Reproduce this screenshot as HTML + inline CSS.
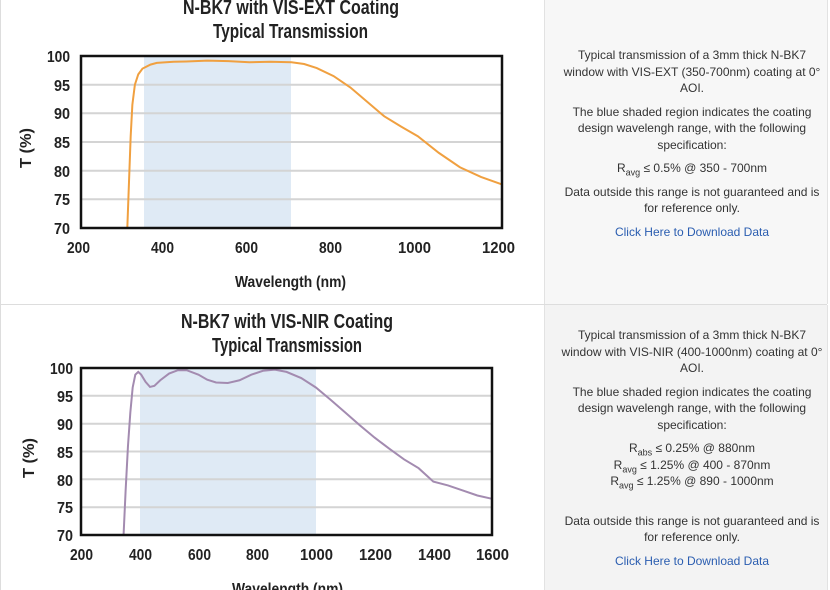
<!DOCTYPE html>
<html><head><meta charset="utf-8"><style>
body{margin:0;width:830px;height:590px;overflow:hidden;background:#fff;font-family:"Liberation Sans",sans-serif;position:relative}
.rc{position:absolute;left:544px;width:282px;background:#f7f7f7;border-left:1px solid #e2e2e2;border-right:1px solid #e2e2e2}
.tx{position:absolute;left:548px;width:288px;text-align:center;font-size:12px;line-height:16.5px;color:#333;white-space:nowrap}
.tx p{margin:0 0 7px 0}
a{color:#2a5db0;text-decoration:none}
sub{font-size:9px;line-height:0}
</style></head><body>
<div style="position:absolute;left:0;top:0;width:1px;height:590px;background:#ddd"></div>
<div class="rc" style="top:0;height:304px"></div>
<div style="position:absolute;left:0;top:304px;width:827px;height:1px;background:#ddd"></div>
<div class="rc" style="top:305px;height:285px;background:#f3f3f3"></div>
<div class="tx" style="top:47px">
<p>Typical transmission of a 3mm thick N-BK7<br>window with VIS-EXT (350-700nm) coating at 0°<br>AOI.</p>
<p>The blue shaded region indicates the coating<br>design wavelengh range, with the following<br>specification:</p>
<p>R<sub>avg</sub> ≤ 0.5% @ 350 - 700nm</p>
<p>Data outside this range is not guaranteed and is<br>for reference only.</p>
<p><a>Click Here to Download Data</a></p>
</div>
<div class="tx" style="top:327px">
<p>Typical transmission of a 3mm thick N-BK7<br>window with VIS-NIR (400-1000nm) coating at 0°<br>AOI.</p>
<p>The blue shaded region indicates the coating<br>design wavelengh range, with the following<br>specification:</p>
<p style="margin-bottom:23px">R<sub>abs</sub> ≤ 0.25% @ 880nm<br>R<sub>avg</sub> ≤ 1.25% @ 400 - 870nm<br>R<sub>avg</sub> ≤ 1.25% @ 890 - 1000nm</p>
<p>Data outside this range is not guaranteed and is<br>for reference only.</p>
<p><a>Click Here to Download Data</a></p>
</div>
<svg width="830" height="590" style="position:absolute;left:0;top:0" font-family="'Liberation Sans',sans-serif" font-weight="bold" fill="#222" lengthAdjust="spacingAndGlyphs">
<!-- chart 1 -->
<text x="183" y="14" font-size="20" textLength="216" lengthAdjust="spacingAndGlyphs">N-BK7 with VIS-EXT Coating</text>
<text x="213" y="38" font-size="20" textLength="155" lengthAdjust="spacingAndGlyphs">Typical Transmission</text>
<rect x="144" y="56" width="147" height="172" fill="#dfeaf5"/>
<g stroke="#d4d4d4" stroke-width="2"><line x1="81" x2="502" y1="84.7" y2="84.7"/><line x1="81" x2="502" y1="113.3" y2="113.3"/><line x1="81" x2="502" y1="142" y2="142"/><line x1="81" x2="502" y1="170.7" y2="170.7"/><line x1="81" x2="502" y1="199.3" y2="199.3"/></g>
<g transform="translate(81,56) scale(0.421,-5.733) translate(-200,-100)">
<polyline vector-effect="non-scaling-stroke" fill="none" stroke="#f0a040" stroke-width="2" points="310,70 314,78 318,86 322,91.5 328,95 336,96.8 346,97.8 365,98.5 380,98.8 420,99 450,99.05 500,99.2 550,99.1 600,98.9 650,99 700,98.9 730,98.6 760,97.9 800,96.5 840,94.5 880,92 920,89.5 960,87.7 1000,86 1050,83.1 1100,80.6 1150,78.9 1200,77.6"/>
</g>
<rect x="81" y="56" width="421" height="172" fill="none" stroke="#111" stroke-width="2.5"/>
<g font-size="16"><text x="47" y="62" textLength="23" lengthAdjust="spacingAndGlyphs">100</text><text x="54" y="91" textLength="16" lengthAdjust="spacingAndGlyphs">95</text><text x="54" y="119" textLength="16" lengthAdjust="spacingAndGlyphs">90</text><text x="54" y="148" textLength="16" lengthAdjust="spacingAndGlyphs">85</text><text x="54" y="177" textLength="16" lengthAdjust="spacingAndGlyphs">80</text><text x="54" y="205" textLength="16" lengthAdjust="spacingAndGlyphs">75</text><text x="54" y="234" textLength="16" lengthAdjust="spacingAndGlyphs">70</text></g>
<g font-size="16"><text x="67" y="253" textLength="23" lengthAdjust="spacingAndGlyphs">200</text><text x="151" y="253" textLength="23" lengthAdjust="spacingAndGlyphs">400</text><text x="235" y="253" textLength="23" lengthAdjust="spacingAndGlyphs">600</text><text x="319" y="253" textLength="23" lengthAdjust="spacingAndGlyphs">800</text><text x="398" y="253" textLength="33" lengthAdjust="spacingAndGlyphs">1000</text><text x="482" y="253" textLength="33" lengthAdjust="spacingAndGlyphs">1200</text></g>
<text x="235" y="287" font-size="16" textLength="111" lengthAdjust="spacingAndGlyphs">Wavelength (nm)</text>
<text transform="translate(31,168) rotate(-90)" font-size="16" textLength="40" lengthAdjust="spacingAndGlyphs">T (%)</text>
<!-- chart 2 -->
<text x="181" y="328" font-size="20" textLength="212" lengthAdjust="spacingAndGlyphs">N-BK7 with VIS-NIR Coating</text>
<text x="212" y="352" font-size="20" textLength="150" lengthAdjust="spacingAndGlyphs">Typical Transmission</text>
<rect x="140" y="368" width="176" height="167" fill="#dfeaf5"/>
<g stroke="#d4d4d4" stroke-width="2"><line x1="81" x2="492" y1="395.8" y2="395.8"/><line x1="81" x2="492" y1="423.7" y2="423.7"/><line x1="81" x2="492" y1="451.5" y2="451.5"/><line x1="81" x2="492" y1="479.3" y2="479.3"/><line x1="81" x2="492" y1="507.2" y2="507.2"/></g>
<g transform="translate(81,368) scale(0.2936,-5.567) translate(-200,-100)">
<polyline vector-effect="non-scaling-stroke" fill="none" stroke="#a38bb0" stroke-width="2" points="345,70 352,78 360,86 368,92 376,96.5 385,98.8 395,99.3 405,98.8 420,97.5 435,96.6 450,96.8 470,97.8 500,99 530,99.6 560,99.6 600,98.8 630,97.9 660,97.4 700,97.3 740,97.8 780,98.8 820,99.5 860,99.7 900,99.3 950,98.2 1000,96.5 1050,94.3 1100,92 1150,89.7 1200,87.5 1250,85.5 1300,83.6 1350,82 1400,79.6 1450,78.9 1500,78 1550,77.1 1600,76.5"/>
</g>
<rect x="81" y="368" width="411" height="167" fill="none" stroke="#111" stroke-width="2.5"/>
<g font-size="16"><text x="50" y="374" textLength="23" lengthAdjust="spacingAndGlyphs">100</text><text x="57" y="402" textLength="16" lengthAdjust="spacingAndGlyphs">95</text><text x="57" y="430" textLength="16" lengthAdjust="spacingAndGlyphs">90</text><text x="57" y="458" textLength="16" lengthAdjust="spacingAndGlyphs">85</text><text x="57" y="486" textLength="16" lengthAdjust="spacingAndGlyphs">80</text><text x="57" y="513" textLength="16" lengthAdjust="spacingAndGlyphs">75</text><text x="57" y="541" textLength="16" lengthAdjust="spacingAndGlyphs">70</text></g>
<g font-size="16"><text x="70" y="560" textLength="23" lengthAdjust="spacingAndGlyphs">200</text><text x="129" y="560" textLength="23" lengthAdjust="spacingAndGlyphs">400</text><text x="188" y="560" textLength="23" lengthAdjust="spacingAndGlyphs">600</text><text x="246" y="560" textLength="23" lengthAdjust="spacingAndGlyphs">800</text><text x="300" y="560" textLength="33" lengthAdjust="spacingAndGlyphs">1000</text><text x="359" y="560" textLength="33" lengthAdjust="spacingAndGlyphs">1200</text><text x="418" y="560" textLength="33" lengthAdjust="spacingAndGlyphs">1400</text><text x="476" y="560" textLength="33" lengthAdjust="spacingAndGlyphs">1600</text></g>
<text x="232" y="594" font-size="16" textLength="111" lengthAdjust="spacingAndGlyphs">Wavelength (nm)</text>
<text transform="translate(34,478) rotate(-90)" font-size="16" textLength="40" lengthAdjust="spacingAndGlyphs">T (%)</text>
</svg>
</body></html>
